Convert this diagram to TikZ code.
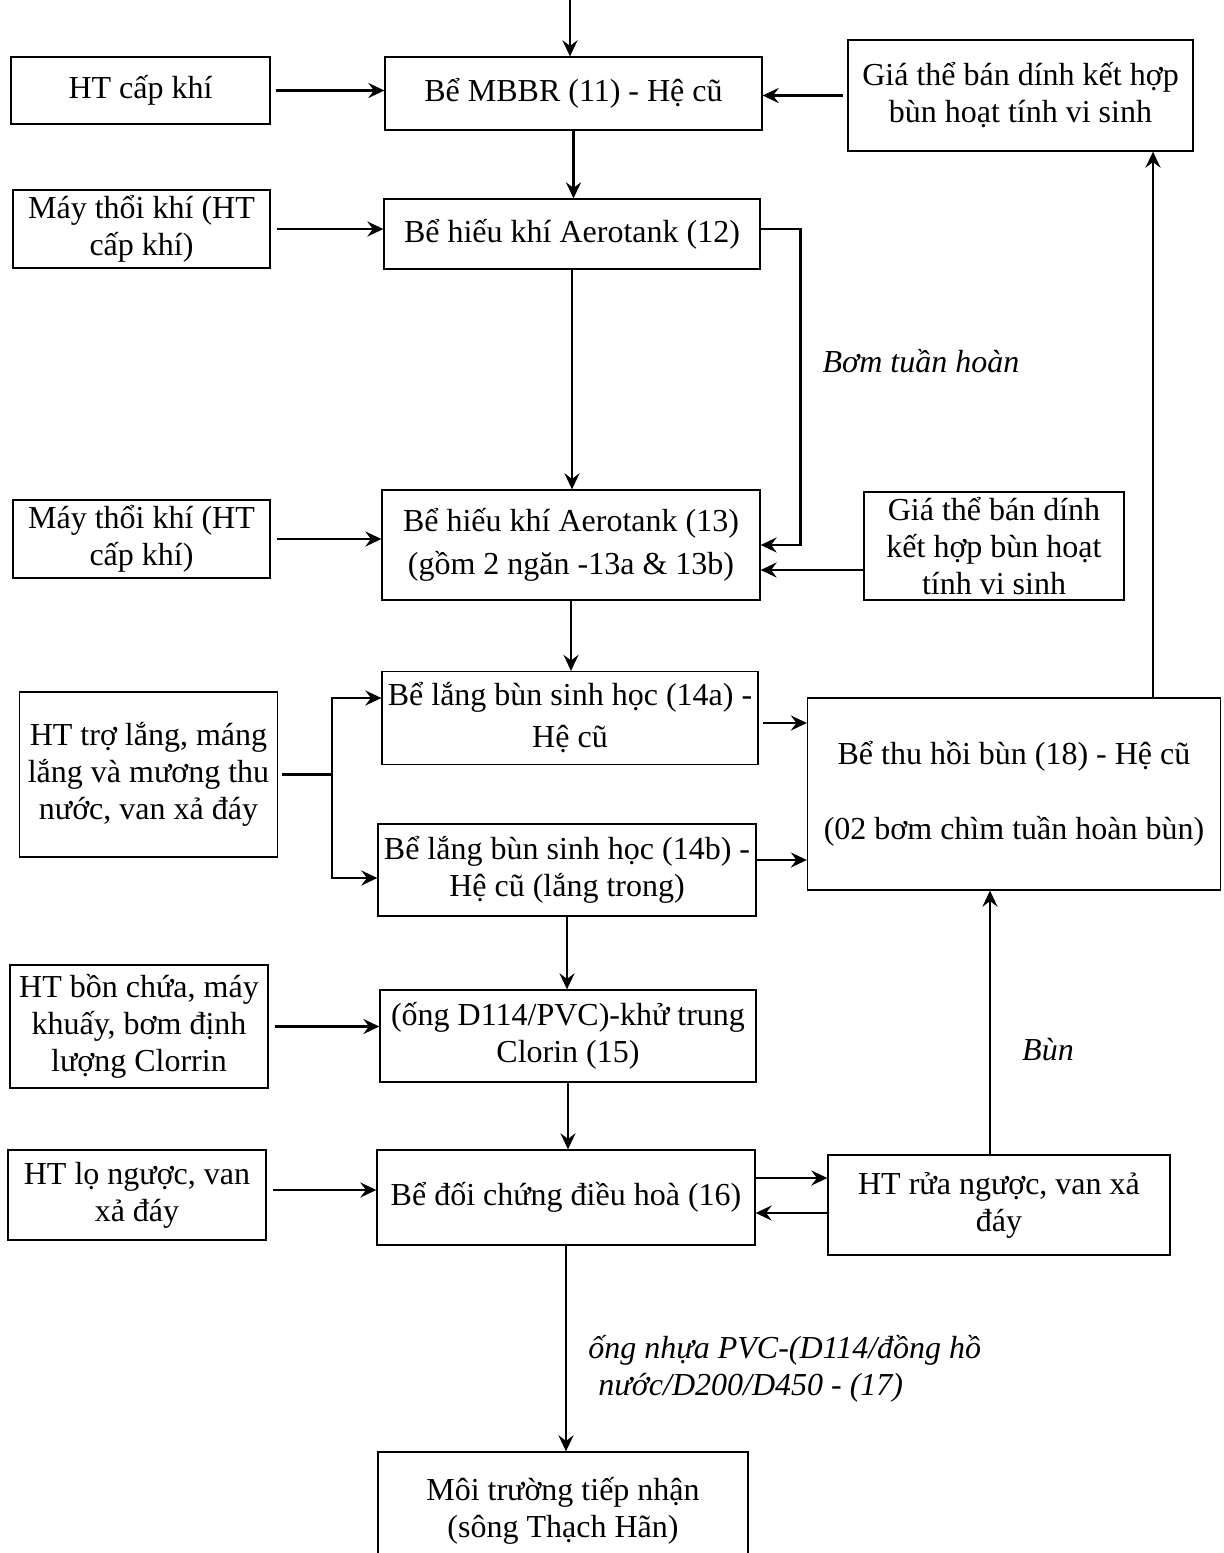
\documentclass[tikz,border=0pt]{standalone}
\usepackage{fontspec}
\setmainfont{Liberation Serif}
\usetikzlibrary{arrows.meta}
\begin{document}
\begin{tikzpicture}[x=0.5pt,y=-0.5pt,
  box/.style={draw, line width=0.65pt, inner sep=0pt, align=center, font=\fontsize{16}{18.5}\selectfont},
  wh/.style 2 args={minimum width=#1*0.5pt, minimum height=#2*0.5pt},
  conn/.style={line width=1.3pt},
  tip/.tip={Stealth[length=8pt,width=7.5pt,inset=2.8pt]},
  arr/.style={conn, -tip},
  lbl/.style={font=\fontsize{16}{18.5}\selectfont\itshape, inner sep=0pt, align=left}]
\useasboundingbox (0,0) rectangle (1224,1553);
\fill[white] (0,0) rectangle (1224,1553);

% boxes
\node[box, wh={259}{67}] (htck) at (140.5,90.5) {HT cấp khí};
\node[box, wh={377}{73}] (mbbr) at (573.5,93.5) {Bể MBBR (11) - Hệ cũ};
\node[box, wh={345}{111}] (gia1) at (1020.5,95.5) {Giá thể bán dính kết hợp\\bùn hoạt tính vi sinh};
\node[box, wh={257}{78}] (may1) at (141.5,229) {Máy thổi khí (HT\\cấp khí)};
\node[box, wh={376}{70}] (ae12) at (572,234) {Bể hiếu khí Aerotank (12)};
\node[box, wh={257}{78}] (may2) at (141.5,539) {Máy thổi khí (HT\\cấp khí)};
\node[box, wh={378}{110}] (ae13) at (571,545) {Bể hiếu khí Aerotank (13)\\[3pt](gồm 2 ngăn -13a \& 13b)};
\node[box, wh={260}{108}] (gia2) at (994,546) {Giá thể bán dính\\kết hợp bùn hoạt\\tính vi sinh};
\node[box, wh={258}{165}] (htl) at (148.5,774.5) {HT trợ lắng, máng\\lắng và mương thu\\nước, van xả đáy};
\node[box, wh={376}{93}] (l14a) at (570,718) {Bể lắng bùn sinh học (14a) -\\[2.5pt]Hệ cũ};
\node[box, wh={378}{92}] (l14b) at (567,870) {Bể lắng bùn sinh học (14b) -\\Hệ cũ (lắng trong)};
\node[box, wh={413}{192}] (thb) at (1014,794) {Bể thu hồi bùn (18) - Hệ cũ\\[19pt](02 bơm chìm tuần hoàn bùn)};
\node[box, wh={258}{123}] (hbc) at (139,1026.5) {HT bồn chứa, máy\\khuấy, bơm định\\lượng Clorrin};
\node[box, wh={376}{92}] (kt15) at (568,1036) {(ống D114/PVC)-khử trung\\Clorin (15)};
\node[box, wh={258}{90}] (hlo) at (137,1195) {HT lọ ngược, van\\xả đáy};
\node[box, wh={378}{95}] (dc16) at (566,1197.5) {Bể đối chứng điều hoà (16)};
\node[box, wh={342}{100}] (hrn) at (999,1205) {HT rửa ngược, van xả\\đáy};
\node[box, wh={370}{118}] (mt) at (563,1511) {Môi trường tiếp nhận\\(sông Thạch Hãn)};

% labels
\node[lbl] (lbom) at (921,361) {Bơm tuần hoàn};
\node[lbl] (lbun) at (1048,1050) {Bùn};
\node[lbl, anchor=west] (lpvc) at (588,1369) {ống nhựa PVC-(D114/đồng hồ\\\hspace*{5pt}nước/D200/D450 - (17)};

% connectors
\coordinate (in) at (570,0);
\draw[arr] (in) -- (in |- mbbr.north);
\draw[arr, shorten <=2.5pt] (htck.east) -- (htck.east -| mbbr.west);
\draw[arr] ([xshift=-2pt]gia1.west) -- (gia1.west -| mbbr.east);
\draw[arr] (mbbr.south) -- (mbbr.south |- ae12.north);
\draw[arr, shorten <=3pt] (may1.east) -- (may1.east -| ae12.west);
\draw[arr] ([yshift=2.5pt]ae12.east) -- ++(40,0) |- (ae13.east);
\draw[arr] (ae12.south) -- (ae12.south |- ae13.north);
\draw[arr, shorten <=3pt] (may2.east) -- (may2.east -| ae13.west);
\draw[arr] ([yshift=-12pt]gia2.west) -- ([yshift=-12pt]gia2.west -| ae13.east);
\draw[arr] (ae13.south) -- (ae13.south |- l14a.north);
\coordinate (bt) at (332,698);
\coordinate (bb) at (332,878);
\draw[conn, shorten <=2pt] (htl.east) -- (htl.east -| bt);
\draw[conn, tip-tip] (bt -| l14a.west) -- (bt) -- (bb) -- (bb -| l14b.west);
\draw[arr, shorten <=2pt] ([yshift=-2.5pt]l14a.east) -- ([yshift=-2.5pt]l14a.east -| thb.west);
\draw[arr] ([yshift=5pt]l14b.east) -- ([yshift=5pt]l14b.east -| thb.west);
\draw[arr] (l14b.south) -- (l14b.south |- kt15.north);
\draw[arr, shorten <=3pt] (hbc.east) -- (hbc.east -| kt15.west);
\draw[arr] (kt15.south) -- (kt15.south |- dc16.north);
\draw[arr, shorten <=3pt] ([yshift=2.5pt]hlo.east) -- ([yshift=2.5pt]hlo.east -| dc16.west);
\draw[arr] ([yshift=9.75pt]dc16.east) -- ([yshift=9.75pt]dc16.east -| hrn.west);
\draw[arr] ([yshift=-4pt]hrn.west) -- ([yshift=-4pt]hrn.west -| dc16.east);
\draw[arr] ([xshift=-4.5pt]hrn.north) -- ([xshift=-4.5pt]hrn.north |- thb.south);
\draw[arr] ([xshift=69.5pt]thb.north) -- ([xshift=69.5pt]thb.north |- gia1.south);
\draw[arr] (dc16.south) -- (dc16.south |- mt.north);
\end{tikzpicture}
\end{document}
